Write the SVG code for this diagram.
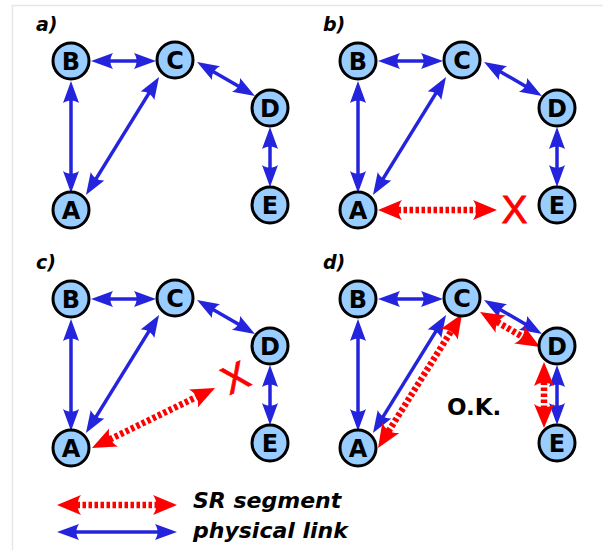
<svg xmlns="http://www.w3.org/2000/svg" width="603" height="550" viewBox="0 0 603 550">
<defs>
<style>
.frame{fill:none;stroke:#e6e6e6;stroke-width:1.5}
.node circle{fill:#99ccff;stroke:#000;stroke-width:3}
.node text{font-family:"DejaVu Sans",sans-serif;font-weight:bold;font-size:24px;text-anchor:middle;fill:#000}
.lbl{font-family:"DejaVu Sans",sans-serif;font-weight:bold;font-style:italic;font-size:19px;fill:#000}
.blue{stroke:#2424dd;stroke-width:3.5;fill:none;marker-start:url(#hb);marker-end:url(#hb)}
.red{stroke:#ff0000;stroke-width:6.5;stroke-dasharray:3.5 2.5;fill:none;marker-start:url(#hr);marker-end:url(#hr)}
.x{font-family:"Liberation Sans",sans-serif;font-size:39px;fill:#ff0000;text-anchor:middle;stroke:#ff0000;stroke-width:0.8}
</style>
<marker id="hb" markerUnits="userSpaceOnUse" viewBox="-2 -10 28 20" markerWidth="28" markerHeight="20" refX="3.5" refY="0" orient="auto-start-reverse" overflow="visible">
<path d="M0,-8 L22,0 L0,8 C3.5,3 3.5,-3 0,-8 Z" fill="#2424dd"/>
</marker>
<marker id="hr" markerUnits="userSpaceOnUse" viewBox="-2 -12 30 24" markerWidth="30" markerHeight="24" refX="4.5" refY="0" orient="auto-start-reverse" overflow="visible">
<path d="M0,-10 L24,0 L0,10 C4.5,4 4.5,-4 0,-10 Z" fill="#ff0000"/>
</marker>
</defs>
<rect class="frame" x="12.5" y="5.5" width="620" height="580"/>

<g id="connectors">
  <g id="conn-a">
    <line class="blue" x1="109.5" y1="61" x2="137.5" y2="61"/>
    <line class="blue" x1="71" y1="99.5" x2="71" y2="174.5"/>
    <line class="blue" x1="95.7" y1="179.3" x2="149.3" y2="92.7"/>
    <line class="blue" x1="213" y1="71.4" x2="239" y2="86.6"/>
    <line class="blue" x1="270" y1="145.5" x2="270" y2="168.5"/>
  </g>
  <g id="conn-b" transform="translate(287,0)">
    <line class="blue" x1="109.5" y1="61" x2="137.5" y2="61"/>
    <line class="blue" x1="71" y1="99.5" x2="71" y2="174.5"/>
    <line class="blue" x1="95.7" y1="179.3" x2="149.3" y2="92.7"/>
    <line class="blue" x1="213" y1="71.4" x2="239" y2="86.6"/>
    <line class="blue" x1="270" y1="145.5" x2="270" y2="168.5"/>
  </g>
  <g id="conn-c" transform="translate(0,238)">
    <line class="blue" x1="109.5" y1="61" x2="137.5" y2="61"/>
    <line class="blue" x1="71" y1="99.5" x2="71" y2="174.5"/>
    <line class="blue" x1="95.7" y1="179.3" x2="149.3" y2="92.7"/>
    <line class="blue" x1="213" y1="71.4" x2="239" y2="86.6"/>
    <line class="blue" x1="270" y1="145.5" x2="270" y2="168.5"/>
  </g>
  <g id="conn-d" transform="translate(287,238)">
    <line class="blue" x1="109.5" y1="61" x2="137.5" y2="61"/>
    <line class="blue" x1="71" y1="99.5" x2="71" y2="174.5"/>
    <line class="blue" x1="95.7" y1="179.3" x2="149.3" y2="92.7"/>
    <line class="blue" x1="213" y1="71.4" x2="239" y2="86.6"/>
    <line class="blue" x1="270" y1="145.5" x2="270" y2="168.5"/>
  </g>
  <g id="sr-segments">
    <line class="red" x1="397.5" y1="210" x2="477.5" y2="210"/>
    <line class="red" x1="109.5" y1="439.5" x2="197.5" y2="396.5"/>
    <line class="red" x1="388.4" y1="431.5" x2="451.6" y2="330.5"/>
    <line class="red" x1="496.9" y1="321.8" x2="523.2" y2="337.2"/>
    <line class="red" x1="544" y1="381.5" x2="544" y2="408.5"/>
  </g>
  <g id="legend-arrows">
    <line class="red" x1="76.5" y1="505" x2="157.5" y2="505"/>
    <line class="blue" x1="75.5" y1="532" x2="158.5" y2="532"/>
  </g>
</g>

<g id="panel-a">
  <text class="lbl" x="36" y="31">a)</text>
  <g id="a-B" class="node"><circle cx="71" cy="61" r="18"/><text x="71" y="70">B</text></g>
  <g id="a-C" class="node"><circle cx="175" cy="60" r="18"/><text x="175" y="69">C</text></g>
  <g id="a-D" class="node"><circle cx="270" cy="108" r="18"/><text x="270" y="117">D</text></g>
  <g id="a-E" class="node"><circle cx="270" cy="205" r="18"/><text x="270" y="214">E</text></g>
  <g id="a-A" class="node"><circle cx="71" cy="210" r="18"/><text x="71" y="219">A</text></g>
</g>
<g id="panel-b" transform="translate(287,0)">
  <text class="lbl" x="36" y="31">b)</text>
  <g id="b-B" class="node"><circle cx="71" cy="61" r="18"/><text x="71" y="70">B</text></g>
  <g id="b-C" class="node"><circle cx="175" cy="60" r="18"/><text x="175" y="69">C</text></g>
  <g id="b-D" class="node"><circle cx="270" cy="108" r="18"/><text x="270" y="117">D</text></g>
  <g id="b-E" class="node"><circle cx="270" cy="205" r="18"/><text x="270" y="214">E</text></g>
  <g id="b-A" class="node"><circle cx="71" cy="210" r="18"/><text x="71" y="219">A</text></g>
</g>
<g id="panel-c" transform="translate(0,238)">
  <text class="lbl" x="36" y="31">c)</text>
  <g id="c-B" class="node"><circle cx="71" cy="61" r="18"/><text x="71" y="70">B</text></g>
  <g id="c-C" class="node"><circle cx="175" cy="60" r="18"/><text x="175" y="69">C</text></g>
  <g id="c-D" class="node"><circle cx="270" cy="108" r="18"/><text x="270" y="117">D</text></g>
  <g id="c-E" class="node"><circle cx="270" cy="205" r="18"/><text x="270" y="214">E</text></g>
  <g id="c-A" class="node"><circle cx="71" cy="210" r="18"/><text x="71" y="219">A</text></g>
</g>
<g id="panel-d" transform="translate(287,238)">
  <text class="lbl" x="36" y="31">d)</text>
  <g id="d-B" class="node"><circle cx="71" cy="61" r="18"/><text x="71" y="70">B</text></g>
  <g id="d-C" class="node"><circle cx="175" cy="60" r="18"/><text x="175" y="69">C</text></g>
  <g id="d-D" class="node"><circle cx="270" cy="108" r="18"/><text x="270" y="117">D</text></g>
  <g id="d-E" class="node"><circle cx="270" cy="205" r="18"/><text x="270" y="214">E</text></g>
  <g id="d-A" class="node"><circle cx="71" cy="210" r="18"/><text x="71" y="219">A</text></g>
</g>

<text class="x" x="514.5" y="223">X</text>
<text class="x" transform="translate(235,377) rotate(-25)" x="0" y="14">X</text>
<text x="447" y="415" style="font-family:'DejaVu Sans',sans-serif;font-weight:bold;font-size:23px">O.K.</text>

<g id="legend">
  <text class="lbl" x="193" y="508" style="font-size:22px">SR segment</text>
  <text class="lbl" x="193" y="538" style="font-size:22px">physical link</text>
</g>
</svg>
